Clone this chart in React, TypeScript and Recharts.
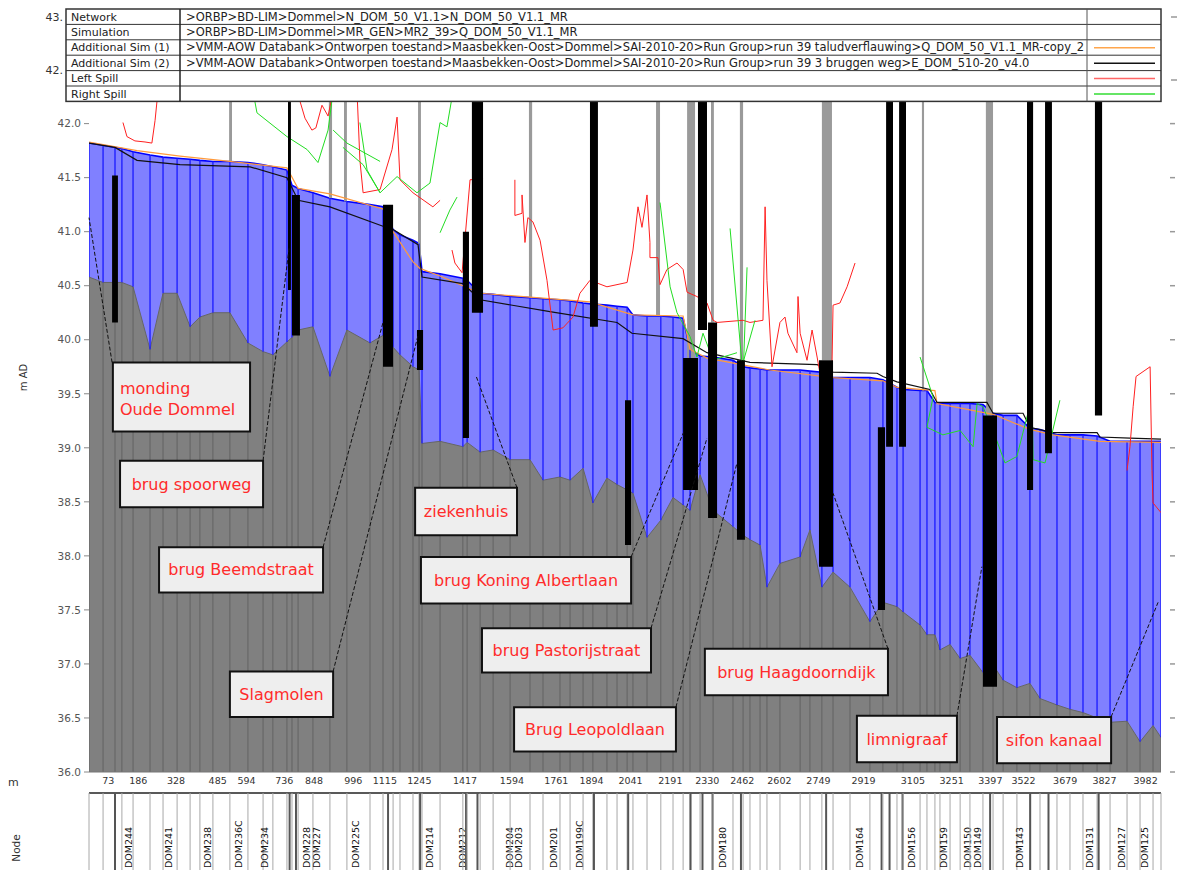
import React from 'react';
import { ComposedChart, Area, Line, XAxis, YAxis, ReferenceArea, ReferenceLine } from 'recharts';

// ---- computational sections (chainage m, water level m AD, bed level m AD)
const chainage = [0, 53, 98, 124, 166, 230, 279, 332, 381, 418, 467, 531, 599, 656, 693, 746, 765, 788, 844, 908, 972, 1059, 1108, 1146, 1172, 1221, 1244, 1255, 1323, 1409, 1425, 1474, 1523, 1587, 1662, 1711, 1775, 1813, 1862, 1899, 1952, 1990, 2028, 2050, 2103, 2155, 2201, 2239, 2265, 2303, 2352, 2427, 2465, 2491, 2529, 2555, 2604, 2680, 2717, 2762, 2804, 2868, 2943, 2992, 3045, 3068, 3132, 3158, 3188, 3207, 3245, 3283, 3320, 3369, 3407, 3445, 3497, 3546, 3584, 3648, 3697, 3746, 3799, 3848, 3912, 3961, 4010, 4040];
const waterLevel = [41.82, 41.8, 41.78, 41.77, 41.74, 41.71, 41.69, 41.68, 41.67, 41.66, 41.65, 41.65, 41.64, 41.62, 41.6, 41.57, 41.43, 41.4, 41.36, 41.31, 41.28, 41.25, 41.23, 41.02, 40.97, 40.92, 40.89, 40.63, 40.61, 40.57, 40.55, 40.43, 40.42, 40.4, 40.39, 40.38, 40.37, 40.36, 40.34, 40.33, 40.32, 40.31, 40.3, 40.23, 40.22, 40.22, 40.21, 40.2, 39.91, 39.85, 39.84, 39.81, 39.75, 39.74, 39.73, 39.72, 39.72, 39.72, 39.71, 39.7, 39.65, 39.65, 39.65, 39.63, 39.56, 39.54, 39.53, 39.53, 39.42, 39.41, 39.41, 39.41, 39.41, 39.4, 39.32, 39.3, 39.3, 39.18, 39.17, 39.12, 39.12, 39.12, 39.11, 39.06, 39.06, 39.06, 39.06, 39.06];
const bedLevel = [40.58, 40.53, 40.53, 40.53, 40.49, 39.91, 40.43, 40.43, 40.12, 40.21, 40.25, 40.25, 39.97, 39.89, 39.86, 39.98, 40.02, 40.09, 40.12, 39.66, 40.09, 39.97, 40.04, 39.93, 39.86, 39.75, 39.72, 39.04, 39.06, 39.01, 39.05, 38.96, 38.98, 38.89, 38.89, 38.7, 38.73, 38.7, 38.81, 38.49, 38.72, 38.66, 38.61, 38.58, 38.17, 38.33, 38.54, 38.47, 38.42, 38.75, 38.42, 38.27, 38.19, 38.15, 38.1, 37.71, 37.93, 37.99, 38.24, 37.71, 37.85, 37.71, 37.39, 37.57, 37.53, 37.48, 37.36, 37.27, 37.27, 37.13, 37.18, 37.05, 37.08, 36.92, 36.99, 36.85, 36.78, 36.82, 36.68, 36.62, 36.58, 36.55, 36.5, 36.46, 36.47, 36.28, 36.43, 36.32];

// ---- additional simulations [chainage, level]
const sim1Level: [number, number][] = [[0, 41.83], [181, 41.75], [343, 41.7], [531, 41.65], [746, 41.59], [788, 41.4], [908, 41.35], [1108, 41.21], [1146, 41.0], [1221, 40.72], [1247, 40.66], [1323, 40.59], [1474, 40.43], [1888, 40.35], [2050, 40.23], [2239, 40.22], [2265, 39.91], [2329, 39.83], [2566, 39.72], [2804, 39.65], [2992, 39.62], [3045, 39.56], [3188, 39.53], [3196, 39.41], [3407, 39.31], [3546, 39.17], [3633, 39.12], [3810, 39.06], [4040, 39.05]];
const sim2Level: [number, number][] = [[0, 41.82], [98, 41.78], [181, 41.66], [343, 41.62], [607, 41.6], [746, 41.5], [788, 41.29], [908, 41.23], [1108, 41.05], [1146, 41.02], [1240, 40.88], [1255, 40.58], [1409, 40.52], [1474, 40.37], [1737, 40.26], [1990, 40.16], [2046, 40.06], [2239, 40.01], [2329, 39.88], [2491, 39.79], [2744, 39.77], [2804, 39.7], [2970, 39.69], [2992, 39.66], [3045, 39.61], [3169, 39.54], [3196, 39.42], [3384, 39.42], [3407, 39.32], [3520, 39.32], [3546, 39.19], [3633, 39.14], [3799, 39.14], [3810, 39.1], [3923, 39.09], [4040, 39.08]];

// ---- spill levels, one list per visible stretch
const leftSpill: [number, number][][] = [
  [[128, 42.01], [143, 41.88], [173, 41.84], [211, 41.83], [237, 41.82], [249, 42.03], [260, 42.3]],
  [[784, 42.3], [814, 42.05], [840, 41.94], [855, 41.96], [878, 42.17], [901, 42.07], [920, 42.3]],
  [[1010, 42.3], [1021, 41.66], [1033, 41.36], [1097, 41.39], [1142, 41.76], [1161, 42.06], [1172, 41.48], [1221, 41.36], [1296, 41.23], [1323, 41.29]],
  [[1368, 40.83], [1379, 40.71], [1406, 40.62], [1436, 41.48], [1485, 41.49]],
  [[1605, 41.48], [1605, 41.15], [1632, 41.17], [1632, 41.34], [1643, 40.9], [1654, 41.13], [1673, 41.09], [1700, 40.92], [1726, 40.55], [1749, 40.09], [1786, 40.11], [1824, 40.21], [1850, 40.43], [1888, 40.55], [1952, 40.49], [2028, 40.53], [2050, 40.83], [2069, 41.23], [2084, 41.04], [2103, 41.34], [2114, 40.9], [2114, 40.76], [2144, 40.76], [2152, 40.51], [2178, 40.65], [2216, 40.71], [2239, 40.65], [2254, 40.44], [2291, 40.4], [2329, 40.34], [2352, 40.18], [2367, 40.16], [2465, 40.18], [2491, 40.16], [2540, 40.18], [2548, 41.23], [2555, 40.55], [2574, 39.75], [2604, 40.16], [2623, 40.21], [2634, 40.06], [2668, 39.88], [2672, 40.4], [2680, 40.06], [2706, 39.81], [2725, 40.09], [2744, 39.84], [2774, 39.42], [2800, 39.75], [2804, 40.32], [2830, 40.34], [2857, 40.49], [2887, 40.71]],
  [[3912, 38.79], [3923, 39.01], [3935, 39.38], [3946, 39.66], [3999, 39.75], [4006, 38.79], [4010, 38.49], [4040, 38.4]],
];
const rightSpill: [number, number][][] = [
  [[618, 42.3], [633, 42.1], [746, 41.88], [822, 41.76], [863, 41.64], [901, 41.94], [920, 42.3]],
  [[920, 41.94], [972, 41.82], [1097, 41.65]],
  [[957, 41.78], [1033, 41.62], [1097, 41.36], [1161, 41.51], [1236, 41.36], [1285, 41.45], [1323, 42.01], [1349, 41.97], [1372, 42.3]],
  [[1021, 42.01], [1048, 41.57], [1097, 41.36]],
  [[1323, 40.99], [1360, 41.2], [1387, 41.32]],
  [[2152, 41.27], [2190, 40.49], [2216, 40.25], [2265, 40.03], [2291, 39.84], [2314, 40.06], [2352, 39.81], [2389, 39.84], [2442, 39.88]],
  [[2416, 41.03], [2465, 39.66], [2480, 40.67]],
  [[2465, 39.79], [2510, 40.18]],
  [[3132, 39.84], [3181, 39.47], [3158, 39.19], [3218, 39.12], [3283, 39.16], [3332, 39.01], [3347, 39.41], [3369, 39.38], [3407, 39.16], [3452, 38.86], [3497, 38.92], [3554, 39.47], [3558, 38.89], [3603, 38.86], [3659, 39.44]],
];

// ---- structures: [from chainage, to chainage, top level, bottom level]
const structures: [number, number, number, number][] = [
  [87, 109, 41.52, 40.16], [750, 761, 42.3, 40.46], [765, 795, 41.34, 40.04], [1108, 1146, 41.25, 39.75],
  [1236, 1259, 40.09, 39.72], [1409, 1432, 41.0, 39.09], [1443, 1485, 42.3, 40.25], [1888, 1918, 42.3, 40.12],
  [2020, 2043, 39.44, 38.1], [2239, 2295, 39.83, 38.61], [2295, 2329, 42.3, 40.09], [2333, 2367, 40.16, 38.35],
  [2442, 2472, 39.81, 38.15], [2751, 2804, 39.81, 37.9], [2973, 3000, 39.19, 37.5], [3004, 3030, 42.3, 39.01],
  [3053, 3079, 42.3, 39.01], [3369, 3422, 39.3, 36.79], [3535, 3558, 42.3, 38.61], [3603, 3629, 42.3, 38.95],
  [3791, 3818, 42.3, 39.3],
];
// ---- bridge decks (grey): [from chainage, to chainage, bottom level]
const deckLines: [number, number, number][] = [
  [528, 539, 41.65], [904, 916, 41.31], [961, 972, 41.28], [1240, 1251, 40.09], [1658, 1670, 40.39],
  [2137, 2152, 40.22], [2254, 2284, 39.83], [2344, 2355, 40.16], [2453, 2465, 39.81], [2762, 2800, 39.81],
  [3139, 3147, 39.53], [3380, 3407, 39.3],
];

const yTicks = [36, 36.5, 37, 37.5, 38, 38.5, 39, 39.5, 40, 40.5, 41, 41.5, 42];
const xTicks = [73, 186, 328, 485, 594, 736, 848, 996, 1115, 1245, 1417, 1594, 1761, 1894, 2041, 2191, 2330, 2462, 2602, 2749, 2919, 3105, 3251, 3397, 3522, 3679, 3827, 3982];
const nodeLabels: [number, string][] = [
  [147, 'DOM244'], [298, 'DOM241'], [445, 'DOM238'], [565, 'DOM236C'], [660, 'DOM234'], [818, 'DOM228'], [859, 'DOM227'],
  [1006, 'DOM225C'], [1285, 'DOM214'], [1406, 'DOM212'], [1583, 'DOM204'], [1617, 'DOM203'], [1752, 'DOM201'], [1847, 'DOM199C'],
  [2386, 'DOM180'], [2902, 'DOM164'], [3098, 'DOM156'], [3222, 'DOM159'], [3309, 'DOM150'], [3350, 'DOM149'], [3505, 'DOM143'],
  [3769, 'DOM131'], [3893, 'DOM127'], [3976, 'DOM125'],
];

// ---- annotations: text, box [c1, c2, upper, lower], leader [from, to]
const annotations: { lines: string[]; box: number[]; leader: number[][] }[] = [
  { lines: ['monding', 'Oude Dommel'], box: [90, 607, 39.79, 39.15], leader: [[87, 39.79], [0, 41.13]] },
  { lines: ['brug spoorweg'], box: [117, 656, 38.88, 38.45], leader: [[656, 38.88], [754, 40.85]] },
  { lines: ['brug Beemdstraat'], box: [264, 882, 38.08, 37.66], leader: [[882, 38.08], [1108, 40.16]] },
  { lines: ['Slagmolen'], box: [531, 920, 36.93, 36.51], leader: [[920, 36.93], [1240, 40.04]] },
  { lines: ['ziekenhuis'], box: [1229, 1613, 38.63, 38.19], leader: [[1613, 38.63], [1458, 39.67]] },
  { lines: ['brug Koning Albertlaan'], box: [1251, 2043, 37.99, 37.56], leader: [[2043, 37.99], [2242, 39.15]] },
  { lines: ['brug Pastorijstraat'], box: [1481, 2118, 37.33, 36.92], leader: [[2118, 37.33], [2329, 39.09]] },
  { lines: ['Brug Leopoldlaan'], box: [1602, 2212, 36.6, 36.19], leader: [[2212, 36.6], [2442, 38.86]] },
  { lines: ['brug Haagdoorndijk'], box: [2321, 3011, 37.14, 36.71], leader: [[3011, 37.14], [2804, 38.58]] },
  { lines: ['limnigraaf'], box: [2894, 3271, 36.52, 36.09], leader: [[3271, 36.52], [3365, 37.9]] },
  { lines: ['sifon kanaal'], box: [3422, 3852, 36.51, 36.08], leader: [[3852, 36.51], [4029, 37.57]] },
];

const headerLabels = ['Network', 'Simulation', 'Additional Sim (1)', 'Additional Sim (2)', 'Left Spill', 'Right Spill'];
const headerPaths = [
  '>ORBP>BD-LIM>Dommel>N_DOM_50_V1.1>N_DOM_50_V1.1_MR',
  '>ORBP>BD-LIM>Dommel>MR_GEN>MR2_39>Q_DOM_50_V1.1_MR',
  '>VMM-AOW Databank>Ontworpen toestand>Maasbekken-Oost>Dommel>SAI-2010-20>Run Group>run 39 taludverflauwing>Q_DOM_50_V1.1_MR-copy_2',
  '>VMM-AOW Databank>Ontworpen toestand>Maasbekken-Oost>Dommel>SAI-2010-20>Run Group>run 39 3 bruggen weg>E_DOM_510-20_v4.0',
  '',
  '',
];
const headerSwatch = ['', '', '#ffa64d', '#111111', '#ff6666', '#33dd33'];

// ---- derived tables for the library
const sections = chainage.map((c, i) => ({ c, w: waterLevel[i], b: bedLevel[i] }));
const blueSectionLines = sections.flatMap((s) => [{ c: s.c, v: s.b }, { c: s.c, v: s.w }, { c: s.c, v: null }]);
const greySectionLines = sections.flatMap((s) => [{ c: s.c, v: 36 }, { c: s.c, v: s.b }, { c: s.c, v: null }]);
const toRows = (pts: [number, number][]) => pts.map(([c, v]) => ({ c, v }));
const toSegmentRows = (segs: [number, number][][]) =>
  segs.flatMap((seg) => [...toRows(seg), { c: seg[seg.length - 1][0], v: null as any }]);

const labelMap = new Map<number, string>(nodeLabels);
const structureCentres = new Set<number>(structures.map((s) => Math.round((s[0] + s[1]) / 2)));
const sectionSet = new Set<number>(chainage);
const nodeTicks = Array.from(new Set<number>([...chainage, ...structureCentres, ...nodeLabels.map((n) => n[0])])).sort((a, b) => a - b);

const FONT = '"DejaVu Sans", Verdana, sans-serif';

const NodeTick = (props: any) => {
  const { x, y, payload } = props;
  const v = payload?.value;
  const out: React.ReactNode[] = [];
  if (sectionSet.has(v)) out.push(<line key="s" x1={x} x2={x} y1={y} y2={y + 80} stroke="#a8a8a8" strokeWidth={1} />);
  if (structureCentres.has(v)) out.push(<line key="d" x1={x} x2={x} y1={y} y2={y + 80} stroke="#555" strokeWidth={2} />);
  const lab = labelMap.get(v);
  if (lab)
    out.push(
      <text key="t" transform={`translate(${x + 3.5},${y + 75}) rotate(-90)`} fontSize={9.5} fill="#111" fontFamily={FONT}>
        {lab}
      </text>
    );
  return <g>{out}</g>;
};

const RightTick = (props: any) => {
  const { x, y } = props;
  return <line x1={x + 9} x2={x + 14} y1={y} y2={y} stroke="#999" strokeWidth={1.5} />;
};

const BoxLabel = (props: any) => {
  const vb = props.viewBox || {};
  const { x = 0, y = 0, width = 0, height = 0 } = vb;
  const lines: string[] = props.lines || [];
  if (lines.length > 1) {
    return (
      <text x={x + 7} y={y + height / 2} fill="#ff2b2b" fontSize={16} fontFamily={FONT}>
        {lines.map((l, i) => (
          <tspan key={i} x={x + 7} dy={i === 0 ? '-0.2em' : '1.3em'}>
            {l}
          </tspan>
        ))}
      </text>
    );
  }
  return (
    <text x={x + width / 2} y={y + height / 2} textAnchor="middle" dominantBaseline="central" fill="#ff2b2b" fontSize={16} fontFamily={FONT}>
      {lines[0]}
    </text>
  );
};

const Header = () => {
  const top = 9;
  const rowH = 15.4;
  const left = 66;
  const right = 1161;
  const c1 = 180;
  const c2 = 1087;
  const bottom = top + rowH * 6;
  return (
    <svg width={1178} height={110} style={{ position: 'absolute', left: 0, top: 0 }} fontFamily={FONT}>
      <rect x={left} y={top} width={right - left} height={bottom - top} fill="#fff" stroke="#333" strokeWidth={1.5} />
      {headerLabels.map((lab, i) => (
        <g key={lab}>
          {i > 0 && <line x1={left} x2={right} y1={top + rowH * i} y2={top + rowH * i} stroke="#333" strokeWidth={1} />}
          <text x={left + 5} y={top + rowH * i + 11.5} fontSize={11} fill="#222">
            {lab}
          </text>
          <text x={c1 + 6} y={top + rowH * i + 11.5} fontSize={11.5} fill="#222">
            {headerPaths[i]}
          </text>
          {headerSwatch[i] && (
            <line x1={c2 + 7} x2={right - 6} y1={top + rowH * i + 8} y2={top + rowH * i + 8} stroke={headerSwatch[i]} strokeWidth={1.5} />
          )}
        </g>
      ))}
      <line x1={c1} x2={c1} y1={top} y2={bottom} stroke="#222" strokeWidth={1.5} />
      <line x1={c2} x2={c2} y1={top} y2={bottom} stroke="#555" strokeWidth={1} />
      <text x={63} y={21} fontSize={11} fill="#333" textAnchor="end">43.</text>
      <text x={63} y={74} fontSize={11} fill="#333" textAnchor="end">42.</text>
      <line x1={1171} x2={1177} y1={17} y2={17} stroke="#999" strokeWidth={1.5} />
      <line x1={1171} x2={1177} y1={80} y2={80} stroke="#999" strokeWidth={1.5} />
    </svg>
  );
};

export default function App() {
  return (
    <div style={{ position: 'absolute', left: 0, top: 0, width: 1178, height: 870, background: '#fff', fontFamily: FONT, overflow: 'hidden' }}>
      <ComposedChart width={1178} height={870} margin={{ top: 102, right: 0, bottom: 0, left: 29 }} style={{ fontFamily: FONT }}>
        <XAxis
          dataKey="c"
          type="number"
          domain={[0, 4040]}
          allowDataOverflow
          ticks={xTicks}
          interval={0}
          height={21}
          tickLine={false}
          tickSize={0}
          tickMargin={5}
          axisLine={{ stroke: '#777' }}
          tick={{ fontSize: 9.5, fill: '#333' }}
        />
        <XAxis
          xAxisId="node"
          dataKey="c"
          type="number"
          domain={[0, 4040]}
          allowDataOverflow
          ticks={nodeTicks}
          interval={0}
          height={77}
          tickLine={false}
          tickSize={0}
          tickMargin={0}
          axisLine={{ stroke: '#222', strokeWidth: 1.5 }}
          tick={<NodeTick />}
        />
        <YAxis
          type="number"
          domain={[36, 42.2]}
          allowDataOverflow
          ticks={yTicks}
          interval={0}
          width={60}
          axisLine={false}
          tickSize={5}
          tickMargin={3}
          tickLine={{ stroke: '#888' }}
          tick={{ fontSize: 10.5, fill: '#555' }}
          tickFormatter={(v: number) => v.toFixed(1)}
        />
        <YAxis
          yAxisId="r"
          orientation="right"
          type="number"
          domain={[36, 42.2]}
          allowDataOverflow
          ticks={yTicks}
          interval={0}
          width={17}
          axisLine={false}
          tickLine={false}
          tickSize={0}
          tickMargin={0}
          tick={<RightTick />}
        />

        <Area data={sections} dataKey="w" type="linear" baseValue={36} fill="#8080ff" fillOpacity={1} stroke="#0000ff" strokeWidth={1.6} isAnimationActive={false} dot={false} activeDot={false} />
        <Area data={sections} dataKey="b" type="linear" baseValue={36} fill="#808080" fillOpacity={1} stroke="#666" strokeWidth={1} isAnimationActive={false} dot={false} activeDot={false} />

        <Line data={blueSectionLines} dataKey="v" type="linear" stroke="#1a1aff" strokeWidth={1.3} dot={false} activeDot={false} isAnimationActive={false} />
        <Line data={greySectionLines} xAxisId="node" yAxisId="r" dataKey="v" type="linear" stroke="#626262" strokeWidth={1} dot={false} activeDot={false} isAnimationActive={false} />

        {deckLines.map(([a, b, bottom], i) => (
          <ReferenceArea key={'d' + i} x1={a} x2={b} y1={bottom} y2={42.3} ifOverflow="hidden" fill="#9a9a9a" fillOpacity={1} stroke="none" zIndex={150} />
        ))}

        <Line data={toRows(sim1Level)} dataKey="v" type="linear" stroke="#ff9a3c" strokeWidth={1.2} dot={false} activeDot={false} isAnimationActive={false} />
        <Line data={toRows(sim2Level)} dataKey="v" type="linear" stroke="#111" strokeWidth={1.2} dot={false} activeDot={false} isAnimationActive={false} />
        <Line data={toSegmentRows(leftSpill)} dataKey="v" type="linear" stroke="#ff2020" strokeWidth={1} dot={false} activeDot={false} isAnimationActive={false} />
        <Line data={toSegmentRows(rightSpill)} dataKey="v" type="linear" stroke="#22dd22" strokeWidth={1} dot={false} activeDot={false} isAnimationActive={false} />

        {structures.map(([a, b, top, bottom], i) => (
          <ReferenceArea key={'s' + i} x1={a} x2={b} y1={bottom} y2={top} ifOverflow="hidden" fill="#000" fillOpacity={1} stroke="none" zIndex={450} />
        ))}

        {annotations.map((a, i) => (
          <ReferenceLine
            key={'l' + i}
            segment={[
              { x: a.leader[0][0], y: a.leader[0][1] },
              { x: a.leader[1][0], y: a.leader[1][1] },
            ]}
            ifOverflow="visible"
            stroke="#111"
            strokeWidth={1}
            strokeDasharray="4 2"
            zIndex={700}
          />
        ))}
        {annotations.map((a, i) => (
          <ReferenceArea
            key={'b' + i}
            x1={a.box[0]}
            x2={a.box[1]}
            y1={a.box[3]}
            y2={a.box[2]}
            ifOverflow="visible"
            fill="#eeeeee"
            fillOpacity={1}
            stroke="#111"
            strokeWidth={2}
            zIndex={800}
            label={<BoxLabel lines={a.lines} />}
          />
        ))}
      </ComposedChart>
      <Header />
      <div style={{ position: 'absolute', left: 8, top: 372, fontSize: 10, color: '#333', transform: 'rotate(-90deg)', transformOrigin: 'center', width: 30, textAlign: 'center' }}>m AD</div>
      <div style={{ position: 'absolute', left: 8, top: 776, fontSize: 11, color: '#333' }}>m</div>
      <div style={{ position: 'absolute', left: -2, top: 842, fontSize: 10.5, color: '#333', transform: 'rotate(-90deg)', width: 36, textAlign: 'center' }}>Node</div>
    </div>
  );
}
